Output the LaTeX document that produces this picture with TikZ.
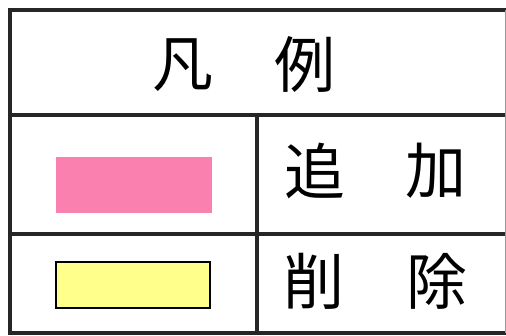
\documentclass[tikz,border=0pt]{standalone}
\usepackage{fontspec}
\newfontfamily\jpfont{Noto Sans CJK JP}
\usepackage{tikz}

\definecolor{addpink}{RGB}{250,128,176}
\definecolor{delyellow}{RGB}{255,255,140}

\tikzset{
	grid/.style={line width=3.5pt, draw=black!85},
	label/.style={font=\jpfont\fontsize{61}{61}\selectfont, inner sep=0pt, anchor=center},
	swatch/.style={minimum width=156pt, minimum height=56pt, inner sep=0pt}
}

\begin{document}
\begin{tikzpicture}[x=1pt,y=-1pt]
	\useasboundingbox (0,0) rectangle (506,336);
	\begin{scope}
	\clip (0,0) rectangle (506,336);
	\draw[grid] (10,10) rectangle (520,333);
	\draw[grid] (10,115) -- (520,115);
	\draw[grid] (10,234) -- (520,234);
	\draw[grid] (257,115) -- (257,333);
	\draw[black!40, line width=0.8pt] (505,10) -- (505,333);
	\end{scope}
	% header
	\node[label] (fan) at (183,65){凡};
	\node[label] (rei) at (305,65){例};
	% rows
	\node[swatch, fill=addpink] (add) at (134,185){};
	\node[swatch, fill=delyellow, draw=black, line width=1.2pt, minimum width=154pt, minimum height=46pt] (del) at (133,285){};
	\node[label] (tsui) at (315,171){追};
	\node[label] (ka) at (436,171){加};
	\node[label] (saku) at (314,281){削};
	\node[label] (jo) at (437,281){除};
\end{tikzpicture}
\end{document}
